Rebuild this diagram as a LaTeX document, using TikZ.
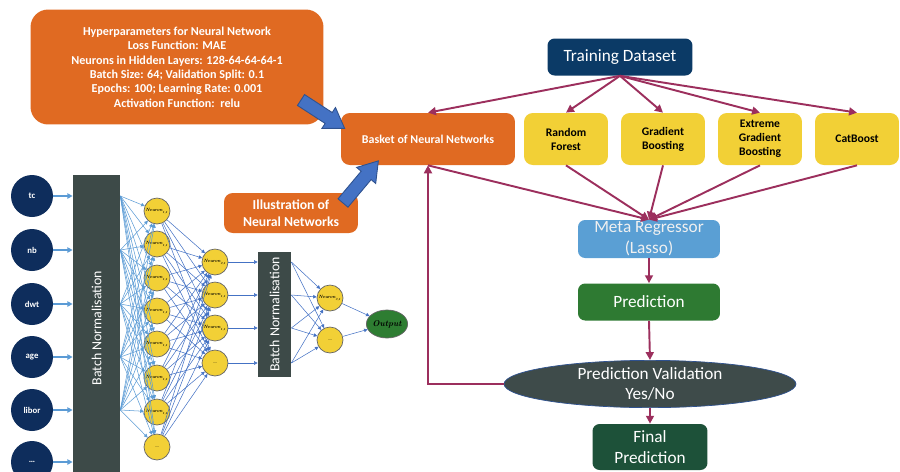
\documentclass[tikz,border=0pt]{standalone}
\usepackage{fontspec}
\setmainfont{Carlito}
\newfontfamily\lmfont{Latin Modern Roman}
\usetikzlibrary{arrows.meta,shapes.geometric,calc}
\definecolor{orng}{HTML}{E06A22}
\definecolor{yel}{HTML}{F2D036}
\definecolor{navy}{HTML}{0B3A66}
\definecolor{inpc}{HTML}{0E2D5C}
\definecolor{mar}{HTML}{9C2F5D}
\definecolor{metab}{HTML}{5A9FD4}
\definecolor{predg}{HTML}{2E7A32}
\definecolor{valg}{HTML}{3E4B4A}
\definecolor{fing}{HTML}{1D5139}
\definecolor{barg}{HTML}{3D4A48}
\definecolor{blk}{HTML}{4472C4}
\definecolor{blkd}{HTML}{2F528F}
\definecolor{lblue}{HTML}{5B9BD5}
\definecolor{outg}{HTML}{2E7D32}
\begin{document}
\begin{tikzpicture}[x=0.02cm,y=-0.02cm,
  obox/.style={rounded corners=5pt, fill=orng, text=white, align=center, font=\bfseries, inner sep=1pt},
  ybox/.style={rounded corners=5pt, fill=yel, text=black, align=center, minimum width=1.68cm, minimum height=1.04cm, inner sep=1pt, font=\fontsize{6.6}{8}\selectfont\bfseries},
  fbox/.style={rounded corners=4pt, text=white, align=center, inner sep=1pt, font=\fontsize{9.8}{11.8}\selectfont},
  mr/.style={draw=mar, line width=1.1pt, -{Triangle[length=4.5pt,width=4.5pt]}},
  inp/.style={circle, fill=inpc, text=white, minimum size=0.84cm, inner sep=0pt, font=\fontsize{5}{6}\selectfont\bfseries},
  neur/.style={circle, fill=yel, draw=gray!80!black, line width=0.4pt, minimum size=0.52cm, inner sep=0pt, font=\fontsize{2.6}{3}\selectfont\lmfont\bfseries\itshape},
  bar/.style={fill=barg, inner sep=0pt},
  barlbl/.style={rotate=90, text=white, font=\fontsize{7.9}{9}\selectfont},
  inarr/.style={draw=lblue, line width=0.9pt, -{Triangle[length=3pt,width=3pt]}},
  nnl1/.style={draw=lblue, line width=0.3pt, -{Triangle[length=2pt,width=2pt]}},
  nnl2/.style={draw=blk, line width=0.3pt, -{Triangle[length=2pt,width=2pt]}},
  barrow/.style={fill=blk, draw=blkd, line width=0.5pt, line join=miter}
]
\useasboundingbox (0,0) rectangle (900,471);
\clip (0,0) rectangle (900,471);

% ---------- right-hand flow ----------
\node[obox, minimum width=5.86cm, minimum height=2.3cm, rounded corners=10pt, font=\fontsize{6.9}{8.2}\selectfont\bfseries] (hyper) at (177,67)
  {Hyperparameters for Neural Network\\Loss Function: MAE\\Neurons in Hidden Layers: 128-64-64-64-1\\Batch Size: 64; Validation Split: 0.1\\Epochs: 100; Learning Rate: 0.001\\Activation Function:\ \ relu};
\node[obox, minimum width=3.48cm, minimum height=1.04cm, font=\fontsize{6.8}{8}\selectfont\bfseries] (basket) at (428,139) {Basket of Neural Networks};
\node[obox, minimum width=2.68cm, minimum height=0.8cm, font=\fontsize{7.8}{9.4}\selectfont\bfseries] (illus) at (291,213) {Illustration of\\Neural Networks};
\node[fbox, fill=navy, minimum width=2.9cm, minimum height=0.74cm] (train) at (620,57) {Training Dataset};
\node[ybox] (rf) at (566,139) {Random\\Forest};
\node[ybox] (gb) at (663,139) {Gradient\\Boosting};
\node[ybox] (xgb) at (760,139) {Extreme\\Gradient\\Boosting};
\node[ybox] (cb) at (857,139) {CatBoost};
\node[fbox, fill=metab, text=white!94!black, minimum width=2.84cm, minimum height=0.76cm] (meta) at (649,239) {Meta Regressor\\(Lasso)};
\node[fbox, fill=predg, minimum width=2.84cm, minimum height=0.74cm] (pred) at (649,302) {Prediction};
\node[ellipse, fill=valg, draw=blkd, line width=0.4pt, text=white, align=center, minimum width=5.84cm, minimum height=0.92cm, inner sep=0pt, font=\fontsize{9.8}{11.8}\selectfont] (val) at (650,384) {Prediction Validation\\Yes/No};
\node[fbox, fill=fing, minimum width=2.3cm, minimum height=0.92cm] (final) at (650,447) {Final\\Prediction};

\foreach \t in {basket,rf,gb,xgb,cb} \draw[mr] (train.south) -- (\t.north);
\foreach \t in {basket,rf,gb,xgb,cb} \draw[mr] (\t.south) -- (meta.north);
\draw[mr] (meta.south) -- (pred.north);
\draw[mr] (pred.south) -- (val.north);
\draw[mr] (val.south) -- (final.north);
\draw[mr] (val.west) -- (basket.south |- val.west) -- (basket.south);

% block arrows
\begin{scope}[shift={(301,100)}, rotate=-33]
  \draw[barrow] (0,6.5) -- (33,6.5) -- (33,12.5) -- (52,0) -- (33,-12.5) -- (33,-6.5) -- (0,-6.5) -- cycle;
\end{scope}
\begin{scope}[shift={(343,203)}, rotate=50]
  \draw[barrow] (0,6.5) -- (36,6.5) -- (36,12.5) -- (55,0) -- (36,-12.5) -- (36,-6.5) -- (0,-6.5) -- cycle;
\end{scope}

% ---------- neural network illustration ----------
\node[inp] (in1) at (32,196) {tc};
\node[inp] (in2) at (32,250) {nb};
\node[inp] (in3) at (32,304) {dwt};
\node[inp] (in4) at (32,357) {age};
\node[inp] (in5) at (32,410) {libor};
\node[inp] (in6) at (32,462) {\dots};

\node[bar, minimum width=0.94cm, minimum height=6cm] (bn1) at (96.5,325) {};
\node[barlbl] (bn1lbl) at (96.5,328) {Batch Normalisation};
\foreach \i in {1,...,6} \draw[inarr] (in\i.east) -- (bn1.west |- in\i);

\foreach \j/\y in {1/211,2/244,3/278,4/311,5/344,6/378,7/412}
  \node[neur] (h1\j) at (157,\y) {Neuron\textsubscript{1,1}};
\node[neur] (h18) at (157,447) {\dots};

\node[neur] (h21) at (215,262) {Neuron\textsubscript{2,1}};
\node[neur] (h22) at (215,295) {Neuron\textsubscript{1,1}};
\node[neur] (h23) at (215,328) {Neuron\textsubscript{1,1}};
\node[neur] (h24) at (215,363) {\dots};

\node[bar, minimum width=0.66cm, minimum height=2.5cm] (bn2) at (274.5,314.5) {};
\node[barlbl] (bn2lbl) at (274.5,314.5) {Batch Normalisation};

\node[neur] (h31) at (330,298) {Neuron\textsubscript{3,1}};
\node[neur] (h32) at (330,340) {\dots};
\node[ellipse, fill=outg, draw=gray!80!black, line width=0.4pt, minimum width=0.68cm, minimum height=0.56cm, inner sep=0pt, font=\fontsize{4.8}{5}\selectfont\lmfont\bfseries\itshape] (out) at (387,324) {Output};

\foreach \i in {1,...,5} \foreach \j in {1,...,8} \draw[nnl1] (bn1.east |- in\i) -- (h1\j);
\foreach \i in {1,...,8} \foreach \j in {1,...,4} \draw[nnl2] (h1\i) -- (h2\j);
\foreach \j in {1,...,4} \draw[nnl2] (h2\j) -- (bn2.west |- h2\j);
\foreach \i in {1,...,4} \foreach \j in {1,2} \draw[nnl2] (bn2.east |- h2\i) -- (h3\j);
\foreach \j in {1,2} \draw[nnl2] (h3\j) -- (out);
\end{tikzpicture}
\end{document}
